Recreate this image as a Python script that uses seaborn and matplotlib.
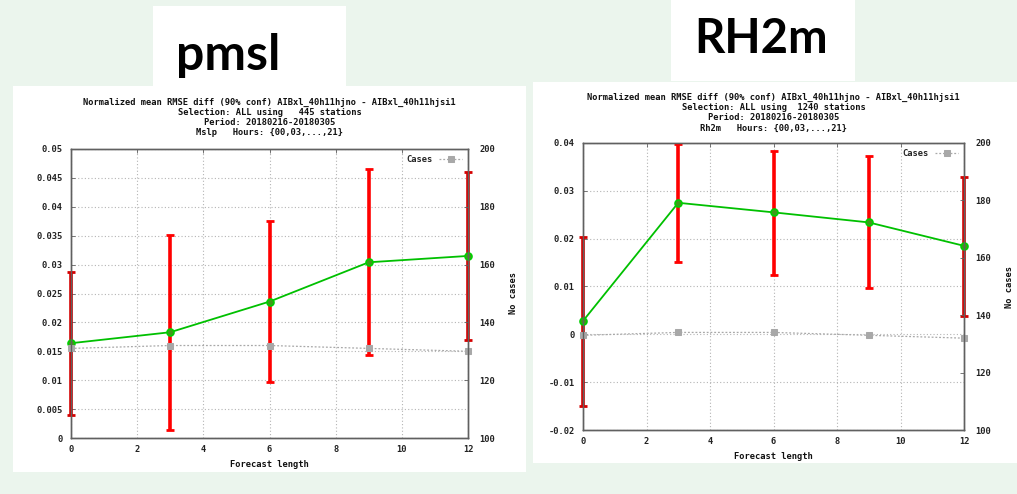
import matplotlib
matplotlib.use("Agg")
import matplotlib.pyplot as plt
import seaborn as sns
from matplotlib.patches import Rectangle

# --- data ---
hours = [0, 3, 6, 9, 12]

pmsl_mean = [0.0164, 0.0183, 0.0236, 0.0304, 0.0315]
pmsl_lo = [0.0040, 0.0013, 0.0097, 0.0143, 0.0170]
pmsl_hi = [0.0287, 0.0351, 0.0376, 0.0465, 0.0461]
pmsl_cases = [131, 132, 132, 131, 130]

rh2m_mean = [0.0028, 0.0275, 0.0255, 0.0234, 0.0185]
rh2m_lo = [-0.0150, 0.0151, 0.0124, 0.0096, 0.0038]
rh2m_hi = [0.0204, 0.0398, 0.0384, 0.0372, 0.0329]
rh2m_cases = [133, 134, 134, 133, 132]

xticks = [0, 2, 4, 6, 8, 10, 12]
pmsl_yticks = [0, 0.005, 0.01, 0.015, 0.02, 0.025, 0.03, 0.035, 0.04, 0.045, 0.05]
pmsl_ylabels = ["0", "0.005", "0.01", "0.015", "0.02", "0.025", "0.03", "0.035", "0.04", "0.045", "0.05"]
rh2m_yticks = [-0.02, -0.01, 0, 0.01, 0.02, 0.03, 0.04]
rh2m_ylabels = ["-0.02", "-0.01", "0", "0.01", "0.02", "0.03", "0.04"]
cases_ticks = [100, 120, 140, 160, 180, 200]

pmsl_title = ["Normalized mean RMSE diff (90% conf) AIBxl_40h11hjno - AIBxl_40h11hjsi1",
              "Selection: ALL using   445 stations",
              "Period: 20180216-20180305",
              "Mslp   Hours: {00,03,...,21}"]
rh2m_title = ["Normalized mean RMSE diff (90% conf) AIBxl_40h11hjno - AIBxl_40h11hjsi1",
              "Selection: ALL using  1240 stations",
              "Period: 20180216-20180305",
              "Rh2m   Hours: {00,03,...,21}"]

W, H = 1017, 494
MONO = "DejaVu Sans Mono"
FS = 6.3

sns.set_style("white")
fig = plt.figure(figsize=(W / 100, H / 100), dpi=100)
fig.patch.set_facecolor("#ebf5ed")


def px_rect(x0, y0, x1, y1):
    return [x0 / W, 1 - y1 / H, (x1 - x0) / W, (y1 - y0) / H]


def add_box(x0, y0, x1, y1):
    r = px_rect(x0, y0, x1, y1)
    fig.patches.append(Rectangle((r[0], r[1]), r[2], r[3], transform=fig.transFigure,
                                 facecolor="white", edgecolor="none", zorder=-5))


# white panels and title boxes
add_box(13, 86, 526, 472)
add_box(533, 82, 1017, 463)
add_box(153, 6, 346, 86)
add_box(671, 0, 855, 81)

fig.text(228 / W, 1 - 70 / H, "pmsl", fontsize=36, fontweight="bold",
         family="Lato", ha="center", va="baseline", color="black")
fig.text(761 / W, 1 - 53 / H, "RH2m", fontsize=34, fontweight="bold",
         family="Lato", ha="center", va="baseline", color="black")


def draw_panel(rect, mean, lo, hi, cases, yticks, ylabels, ylim, title, title_y):
    ax = fig.add_axes(px_rect(*rect))
    ax.set_facecolor("white")
    ax2 = ax.twinx()

    # error bars
    bar_col = ["#d40000" if h in (0, 12) else "#ff0000" for h in hours]
    for h, m, l, u, c in zip(hours, mean, lo, hi, bar_col):
        ax.errorbar([h], [m], yerr=[[m - l], [u - m]], fmt="none", ecolor=c,
                    elinewidth=2.6, capsize=2.8, capthick=2, zorder=3, clip_on=False)

    sns.lineplot(x=hours, y=mean, ax=ax, color="#00c000", linewidth=1.3,
                 marker="o", markersize=5, markerfacecolor="#3f9a1a",
                 markeredgecolor="#00d000", markeredgewidth=1.2, zorder=4, clip_on=False)

    sns.lineplot(x=hours, y=cases, ax=ax2, color="#a8a8a8", linewidth=0.9,
                 linestyle=(0, (1.5, 1.5)), marker="s", markersize=4,
                 markerfacecolor="#a8a8a8", markeredgecolor="#a8a8a8", label="Cases",
                 clip_on=False)

    ax.set_xlim(0, 12)
    ax.set_ylim(*ylim)
    ax2.set_ylim(100, 200)
    ax.set_xticks(xticks)
    ax.set_xticklabels([str(t) for t in xticks])
    ax.set_yticks(yticks)
    ax.set_yticklabels(ylabels)
    ax2.set_yticks(cases_ticks)
    ax2.set_yticklabels([str(t) for t in cases_ticks])

    ax.grid(True, color="#b4b4b4", linestyle=(0, (1, 2)), linewidth=0.8)
    ax.set_axisbelow(True)
    for a in (ax, ax2):
        for s in a.spines.values():
            s.set_color("#606060")
            s.set_linewidth(1.0)
            s.set_visible(True)
        for lab in a.get_xticklabels() + a.get_yticklabels():
            lab.set_family(MONO)
            lab.set_fontweight("bold")
            lab.set_fontsize(FS)
            lab.set_color("#222222")
    ax.tick_params(axis="both", direction="in", length=3, width=0.6, color="#606060",
                   top=True, right=False, pad=6)
    ax.tick_params(axis="x", pad=5)
    ax2.tick_params(axis="y", direction="in", length=3, width=0.6, color="#606060", pad=8)

    ax.set_xlabel("Forecast length", family=MONO, fontweight="bold", fontsize=FS,
                  color="#111111")
    ax.set_ylabel("")
    ax2.set_ylabel("No cases", family=MONO, fontweight="bold", fontsize=FS, labelpad=10,
                   color="#111111")

    ax2.legend(loc="upper right", frameon=False, markerfirst=False,
               prop={"family": MONO, "weight": "bold", "size": FS},
               handlelength=2.6, borderaxespad=0.3)

    cx = (rect[0] + rect[2]) / 2
    for i, line in enumerate(title):
        fig.text(cx / W, 1 - (title_y + 10.3 * i) / H, line, family=MONO,
                 fontweight="bold", fontsize=FS, ha="center", va="center", color="#111111")
    return ax, ax2


draw_panel((71, 149, 468, 438), pmsl_mean, pmsl_lo, pmsl_hi, pmsl_cases,
           pmsl_yticks, pmsl_ylabels, (0, 0.05), pmsl_title, 102)
draw_panel((583, 143, 964, 430), rh2m_mean, rh2m_lo, rh2m_hi, rh2m_cases,
           rh2m_yticks, rh2m_ylabels, (-0.02, 0.04), rh2m_title, 97)

fig.savefig("out.png", dpi=100, facecolor=fig.get_facecolor())
